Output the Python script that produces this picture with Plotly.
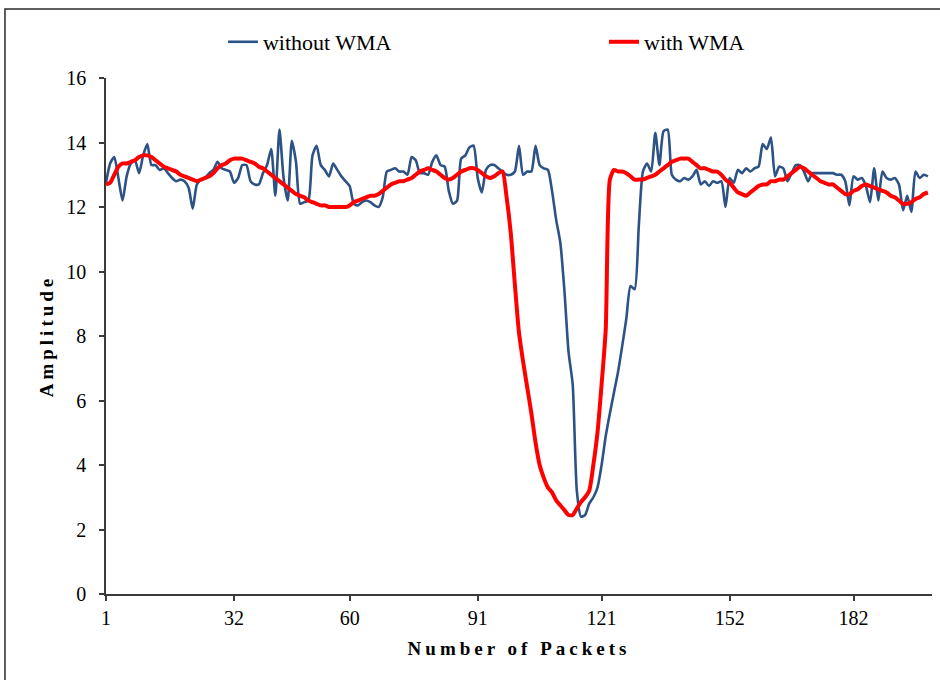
import plotly.graph_objects as go

# Packet index (1..200)
packets = list(range(1, 201))

# Raw amplitude per packet
amp_without_wma = [
    12.75, 13.35, 13.55, 12.9, 12.2, 12.95, 13.35, 13.45, 13.05, 13.6,
    13.95, 13.3, 13.3, 13.15, 13.2, 13.05, 12.9, 12.8, 12.85, 12.8,
    12.6, 11.95, 12.7, 12.85, 12.9, 13.05, 13.15, 13.4, 13.2, 13.15,
    13.1, 12.75, 12.9, 13.3, 13.3, 12.8, 12.7, 12.7, 13.05, 13.3,
    13.8, 12.35, 14.4, 12.9, 12.2, 14.05, 13.4, 12.1, 12.15, 12.2,
    13.6, 13.9, 13.3, 13.15, 12.95, 13.35, 13.15, 12.95, 12.8, 12.65,
    12.1, 12.05, 12.15, 12.2, 12.15, 12.05, 12.0, 12.3, 13.1, 13.15,
    13.2, 13.1, 13.1, 13.0, 13.55, 13.45, 13.05, 13.05, 13.0, 13.4,
    13.6, 13.3, 13.25, 12.5, 12.1, 12.2, 13.5, 13.6, 13.85, 13.9,
    12.9, 12.45, 13.15, 13.3, 13.3, 13.2, 13.1, 13.0, 13.0, 13.1,
    13.9, 13.0, 13.1, 13.1, 13.9, 13.3, 13.2, 13.15, 12.5, 11.6,
    10.9, 9.4, 7.5, 6.5, 3.2, 2.4, 2.45, 2.8, 3.0, 3.3,
    4.0, 4.9, 5.6, 6.25, 6.9, 7.7, 8.55, 9.55, 9.45, 11.4,
    13.1, 13.35, 13.1, 14.3, 13.3, 14.35, 14.4, 13.0, 12.85, 12.8,
    12.9, 12.85, 12.95, 13.15, 12.7, 12.8, 12.65, 12.8, 12.75, 12.8,
    12.0, 12.9, 12.75, 13.15, 13.05, 13.2, 13.1, 13.2, 13.25, 13.95,
    13.8, 14.15, 12.95, 13.25, 13.2, 12.8, 13.05, 13.3, 13.3, 13.1,
    12.8, 13.05, 13.05, 13.05, 13.05, 13.05, 13.05, 13.0, 13.0, 12.8,
    12.05, 12.95, 12.85, 12.9, 12.65, 12.15, 13.2, 12.2, 13.1, 12.9,
    12.85, 12.9, 12.7, 11.9, 12.35, 11.85, 13.1, 12.9, 13.0, 12.95,
]

# Weighted-moving-average amplitude per packet
amp_with_wma = [
    12.7, 12.75, 13.0, 13.25, 13.35, 13.35, 13.4, 13.45, 13.55, 13.6,
    13.6, 13.55, 13.45, 13.35, 13.25, 13.2, 13.15, 13.1, 13.0, 12.95,
    12.9, 12.85, 12.8, 12.85, 12.9, 12.95, 13.05, 13.2, 13.3, 13.35,
    13.45, 13.5, 13.5, 13.5, 13.45, 13.4, 13.35, 13.25, 13.2, 13.1,
    13.0, 12.9, 12.8, 12.7, 12.6, 12.5, 12.4, 12.35, 12.3, 12.2,
    12.15, 12.1, 12.05, 12.05, 12.0, 12.0, 12.0, 12.0, 12.0, 12.05,
    12.15, 12.2, 12.25, 12.3, 12.35, 12.35, 12.4, 12.5, 12.6, 12.7,
    12.75, 12.8, 12.8, 12.85, 12.9, 13.0, 13.1, 13.15, 13.2, 13.15,
    13.1, 13.0, 12.9, 12.85, 12.9, 13.0, 13.1, 13.15, 13.2, 13.2,
    13.15, 13.05, 12.95, 12.9, 12.95, 13.05, 13.1, 12.3, 11.2, 9.6,
    8.1, 7.2, 6.4, 5.6, 4.7, 4.0, 3.6, 3.3, 3.15, 2.9,
    2.75, 2.6, 2.45, 2.45, 2.65, 2.85, 3.0, 3.2, 4.0, 5.0,
    6.5, 8.2, 12.85, 13.15, 13.1, 13.1, 13.05, 12.95, 12.85, 12.85,
    12.85, 12.9, 12.95, 13.0, 13.1, 13.2, 13.3, 13.4, 13.45, 13.5,
    13.5, 13.5, 13.4, 13.3, 13.2, 13.2, 13.15, 13.1, 13.1, 13.0,
    12.85, 12.75, 12.6, 12.45, 12.4, 12.35, 12.45, 12.55, 12.65, 12.7,
    12.7, 12.8, 12.8, 12.85, 12.85, 12.95, 13.05, 13.15, 13.25, 13.2,
    13.1, 13.0, 12.9, 12.8, 12.75, 12.7, 12.7, 12.6, 12.5, 12.4,
    12.4, 12.5, 12.55, 12.65, 12.7, 12.65, 12.6, 12.55, 12.5, 12.45,
    12.35, 12.3, 12.2, 12.1, 12.1, 12.15, 12.25, 12.3, 12.4, 12.45,
]

x_ticks = [1, 32, 60, 91, 121, 152, 182]
y_ticks = [0, 2, 4, 6, 8, 10, 12, 14, 16]

SERIF = "Liberation Serif, Times New Roman, serif"
AXIS_COLOR = "#3a3a3a"

fig = go.Figure()
fig.add_trace(go.Scatter(
    x=packets, y=amp_without_wma, mode="lines", name="without WMA",
    line=dict(color="#2d5286", width=2.6, shape="spline", smoothing=0.6),
    legend="legend",
))
fig.add_trace(go.Scatter(
    x=packets, y=amp_with_wma, mode="lines", name="with WMA",
    line=dict(color="#ff0000", width=4, shape="spline", smoothing=0.6),
    legend="legend2",
))

axis_common = dict(
    showgrid=False, zeroline=False, showline=True,
    linecolor=AXIS_COLOR, linewidth=1.5,
    ticks="outside", ticklen=5, tickwidth=1.5, tickcolor=AXIS_COLOR,
    tickfont=dict(family=SERIF, size=20, color="black"),
)

fig.update_xaxes(
    range=[1, 201], tickmode="array", tickvals=x_ticks,
    ticktext=[str(v) for v in x_ticks],
    title=dict(
        text='<span style="letter-spacing:4px">Number of Packets</span>',
        font=dict(family=SERIF, size=19, color="black", weight="bold"),
        standoff=14,
    ),
    **axis_common,
)
fig.update_yaxes(
    range=[0, 16], tickmode="array", tickvals=y_ticks,
    ticklabelstandoff=9,
    title=dict(
        text='<span style="letter-spacing:4px">Amplitude</span>',
        font=dict(family=SERIF, size=19, color="black", weight="bold"),
        standoff=8,
    ),
    **axis_common,
)

# Outer chart frame
fig.add_shape(
    type="rect", xref="paper", yref="paper",
    x0=-0.1223, x1=1.02, y0=-0.2, y1=1.1337,
    line=dict(color="#2b2b2b", width=1.5), fillcolor="rgba(0,0,0,0)",
    layer="below",
)

legend_style = dict(
    orientation="h", y=1.0698, xanchor="left", yanchor="middle",
    font=dict(family=SERIF, size=22, color="black"),
    bgcolor="rgba(0,0,0,0)", borderwidth=0,
)

fig.update_layout(
    width=940, height=680,
    margin=dict(l=106, r=8, t=78, b=86),
    paper_bgcolor="white", plot_bgcolor="white",
    showlegend=True,
    legend=dict(x=0.1416, **legend_style),
    legend2=dict(x=0.6029, **legend_style),
)

fig.write_html("out.html")
